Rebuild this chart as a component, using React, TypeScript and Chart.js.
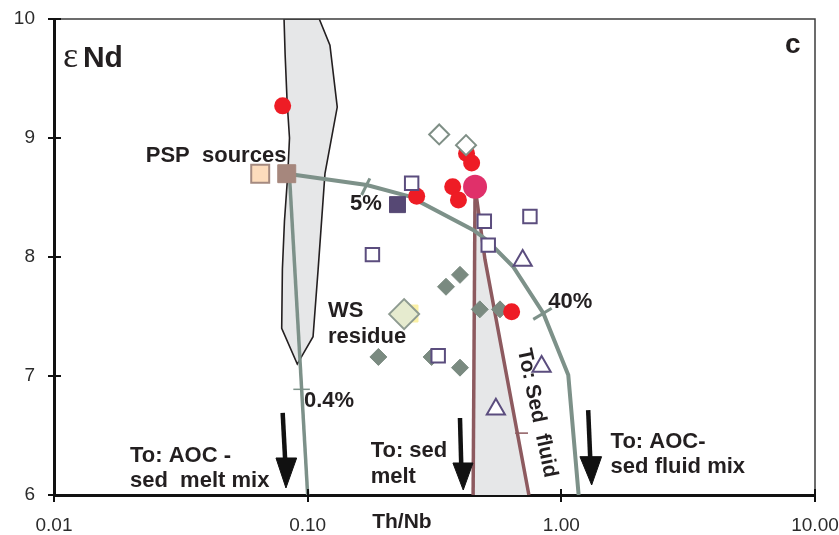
import { useEffect, useRef } from 'react';
import { Chart, registerables } from 'chart.js';

Chart.register(...registerables);

const FONT = '"Liberation Sans", Arial, Helvetica, sans-serif';

// ---- axes ----
const xTickValues = [0.01, 0.1, 1, 10];
const xTickLabels = ['0.01', '0.10', '1.00', '10.00'];
const yTickValues = [6, 7, 8, 9, 10];
const yTickLabels = ['6', '7', '8', '9', '10'];

// ---- grey field (left) ----
const fieldX = [0.0807, 0.0815, 0.083, 0.0848, 0.0835, 0.081, 0.0795, 0.079, 0.091, 0.105, 0.11, 0.117, 0.1308, 0.1224, 0.1111, 0.0807];
const fieldY = [10, 9.7, 9.3, 9.0, 8.7, 8.3, 7.9, 7.4, 7.1, 7.33, 7.9, 8.7, 9.26, 9.78, 10, 10];

// ---- sediment field (between brown lines) ----
const sedFieldX = [0.457, 0.5, 0.745, 0.449, 0.457];
const sedFieldY = [8.59, 7.98, 6.0, 6.0, 8.59];
const sedMeltX = [0.457, 0.449];
const sedMeltY = [8.59, 6.0];
const sedFluidX = [0.457, 0.5, 0.745];
const sedFluidY = [8.59, 7.98, 6.0];

// ---- mixing curves ----
const fluidMixX = [0.083, 0.171, 0.253, 0.449, 0.508, 0.645, 0.849, 1.065, 1.17];
const fluidMixY = [8.7, 8.605, 8.507, 8.227, 8.143, 7.92, 7.527, 7.008, 6.0];
const meltMixX = [0.0848, 0.1];
const meltMixY = [8.68, 6.0];

// ---- tick marks on curves ----
const tick5X = [0.1632, 0.1758];
const tick5Y = [8.521, 8.661];
const tick40X = [0.775, 0.916];
const tick40Y = [7.476, 7.569];
const tick04X = [0.0878, 0.102];
const tick04Y = [6.888, 6.888];
const tickFluidX = [0.657, 0.739];
const tickFluidY = [6.52, 6.52];

// ---- arrows ----
const arrow1ShaftX = [0.0797, 0.0815];
const arrow1ShaftY = [6.69, 6.3];
const arrow1HeadX = [0.075, 0.0905, 0.0821, 0.075];
const arrow1HeadY = [6.311, 6.311, 6.059, 6.311];
const arrow2ShaftX = [0.3985, 0.403];
const arrow2ShaftY = [6.647, 6.26];
const arrow2HeadX = [0.3738, 0.4484, 0.4105, 0.3738];
const arrow2HeadY = [6.269, 6.269, 6.042, 6.269];
const arrow3ShaftX = [1.276, 1.3];
const arrow3ShaftY = [6.714, 6.31];
const arrow3HeadX = [1.184, 1.441, 1.317, 1.184];
const arrow3HeadY = [6.322, 6.322, 6.084, 6.322];

// ---- samples ----
const redX = [0.0797, 0.423, 0.443, 0.373, 0.393, 0.269, 0.637];
const redY = [9.27, 8.87, 8.79, 8.59, 8.48, 8.51, 7.54];
const pinkX = [0.457];
const pinkY = [8.59];
const openSqX = [0.257, 0.18, 0.497, 0.515, 0.752, 0.327];
const openSqY = [8.62, 8.02, 8.3, 8.1, 8.34, 7.17];
const filledSqX = [0.226];
const filledSqY = [8.44];
const triX = [0.704, 0.836, 0.552];
const triY = [7.97, 7.08, 6.72];
const openDiaX = [0.33, 0.421];
const openDiaY = [9.03, 8.94];
const filledDiaX = [0.3985, 0.351, 0.477, 0.573, 0.308, 0.3985, 0.19];
const filledDiaY = [7.85, 7.75, 7.56, 7.56, 7.16, 7.07, 7.16];
const wsX = [0.24];
const wsY = [7.52];
const yellowX = [0.252];
const yellowY = [7.525];
const pspX = [0.0827];
const pspY = [8.7];
const pspTanX = [0.065];
const pspTanY = [8.7];

// ---- text labels ----
const labelTexts = ['PSP  sources', '5%', 'WS', 'residue', '0.4%', '40%', 'To: AOC -', 'sed  melt mix', 'To: sed', 'melt', 'To: AOC-', 'sed fluid mix'];
const labelX = [0.023, 0.1468, 0.1202, 0.1202, 0.0967, 0.888, 0.01993, 0.01993, 0.1771, 0.1771, 1.564, 1.564];
const labelY = [8.801, 8.395, 7.498, 7.28, 6.742, 7.569, 6.28, 6.07, 6.322, 6.098, 6.392, 6.182];
const rotatedText = 'To: Sed  fluid';
const rotatedX = 0.8016;
const rotatedY = 6.689;
const xTitle = 'Th/Nb';
const xTitleX = 0.2353;
const xTitleY = 5.72;

const pts = (xs: number[], ys: number[]) => xs.map((x, i) => ({ x, y: ys[i] }));

const GREEN = '#7d9189';
const BROWN = '#8d5a5f';
const PURPLE = '#5b4d7e';
const INK = '#231f20';

const line = (xs: number[], ys: number[], color: string, width: number, order: number) => ({
  data: pts(xs, ys),
  showLine: true,
  borderColor: color,
  borderWidth: width,
  pointRadius: 0,
  fill: false,
  order,
});

const shape = (xs: number[], ys: number[], fillColor: string, borderColor: string, width: number, order: number) => ({
  data: pts(xs, ys),
  showLine: true,
  borderColor,
  borderWidth: width,
  backgroundColor: fillColor,
  pointRadius: 0,
  fill: 'shape',
  order,
});

const markers = (xs: number[], ys: number[], style: string, radius: number, bg: string, border: string, bw: number, order: number) => ({
  data: pts(xs, ys),
  pointStyle: style,
  pointRadius: radius,
  backgroundColor: bg,
  borderColor: border,
  pointBorderWidth: bw,
  borderWidth: bw,
  showLine: false,
  order,
});

const overlayPlugin = {
  id: 'overlay',
  afterDatasetsDraw(chart: any) {
    const { ctx, chartArea, scales } = chart;
    const xs = scales.x;
    const ys = scales.y;
    ctx.save();
    // top & right frame
    ctx.strokeStyle = '#3c3c3c';
    ctx.lineWidth = 1.5;
    ctx.beginPath();
    ctx.moveTo(chartArea.left, chartArea.top);
    ctx.lineTo(chartArea.right, chartArea.top);
    ctx.lineTo(chartArea.right, chartArea.bottom);
    ctx.stroke();
    // inner tick parts
    ctx.strokeStyle = '#111';
    ctx.lineWidth = 2;
    ctx.beginPath();
    for (const v of xTickValues) {
      const px = Math.round(xs.getPixelForValue(v));
      ctx.moveTo(px, chartArea.bottom);
      ctx.lineTo(px, chartArea.bottom - 6);
    }
    for (const v of yTickValues) {
      const py = Math.round(ys.getPixelForValue(v));
      ctx.moveTo(chartArea.left, py);
      ctx.lineTo(chartArea.left + 7, py);
    }
    ctx.stroke();

    // annotation texts
    ctx.fillStyle = INK;
    ctx.textBaseline = 'alphabetic';
    ctx.textAlign = 'left';
    ctx.font = `bold 22px ${FONT}`;
    labelTexts.forEach((t, i) => {
      ctx.fillText(t, xs.getPixelForValue(labelX[i]), ys.getPixelForValue(labelY[i]));
    });

    // rotated
    ctx.save();
    ctx.translate(xs.getPixelForValue(rotatedX), ys.getPixelForValue(rotatedY));
    ctx.rotate((78 * Math.PI) / 180);
    ctx.textAlign = 'center';
    ctx.textBaseline = 'middle';
    ctx.font = `bold 21px ${FONT}`;
    ctx.fillText(rotatedText, 0, 0);
    ctx.restore();

    // axis title
    ctx.textAlign = 'center';
    ctx.font = `bold 21px ${FONT}`;
    ctx.fillText(xTitle, xs.getPixelForValue(xTitleX), ys.getPixelForValue(xTitleY));

    // eNd
    ctx.textAlign = 'left';
    ctx.font = `36px "Liberation Serif", "DejaVu Serif", serif`;
    ctx.fillText('\u03b5', xs.getPixelForValue(0.01085), ys.getPixelForValue(9.6));
    ctx.font = `bold 30px ${FONT}`;
    ctx.fillText('Nd', xs.getPixelForValue(0.013), ys.getPixelForValue(9.6));
    // panel letter
    ctx.font = `bold 28px ${FONT}`;
    ctx.fillText('c', xs.getPixelForValue(7.61), ys.getPixelForValue(9.714));
    ctx.restore();
  },
};

export default function App() {
  const ref = useRef<HTMLCanvasElement | null>(null);
  useEffect(() => {
    if (!ref.current) return;
    const datasets: any[] = [
      shape(fieldX, fieldY, '#e6e7e8', INK, 1.6, 30),
      shape(sedFieldX, sedFieldY, '#e6e7e8', 'rgba(0,0,0,0)', 0, 29),
      line(sedMeltX, sedMeltY, BROWN, 3.5, 25),
      line(sedFluidX, sedFluidY, BROWN, 3.5, 25),
      line(fluidMixX, fluidMixY, GREEN, 4, 24),
      line(meltMixX, meltMixY, GREEN, 3.5, 24),
      line(tick5X, tick5Y, GREEN, 3, 23),
      line(tick40X, tick40Y, GREEN, 3, 23),
      line(tick04X, tick04Y, GREEN, 1.5, 23),
      line(tickFluidX, tickFluidY, BROWN, 1.5, 23),
      line(arrow1ShaftX, arrow1ShaftY, '#111', 4.5, 22),
      shape(arrow1HeadX, arrow1HeadY, '#111', '#111', 1, 22),
      line(arrow2ShaftX, arrow2ShaftY, '#111', 4.5, 22),
      shape(arrow2HeadX, arrow2HeadY, '#111', '#111', 1, 22),
      line(arrow3ShaftX, arrow3ShaftY, '#111', 4.5, 22),
      shape(arrow3HeadX, arrow3HeadY, '#111', '#111', 1, 22),
      markers(filledDiaX, filledDiaY, 'rectRot', 8.5, '#7a8a80', '#7a8a80', 1, 12),
      markers(yellowX, yellowY, 'rect', 12, '#fbf1a6', '#fbf1a6', 1, 11),
      markers(wsX, wsY, 'rectRot', 15, '#e6ebcf', '#8e9b91', 2, 10),
      markers(redX, redY, 'circle', 8.5, '#ee1c25', '#ee1c25', 0, 9),
      markers(openDiaX, openDiaY, 'rectRot', 10, '#ffffff', '#7f8f86', 2, 8),
      markers(openSqX, openSqY, 'rect', 9.5, '#ffffff', PURPLE, 2, 7),
      markers(triX, triY, 'triangle', 10.5, '#ffffff', PURPLE, 2, 7),
      markers(filledSqX, filledSqY, 'rect', 11.3, '#564874', '#564874', 1, 7),
      markers(pinkX, pinkY, 'circle', 12, '#e0306a', '#e0306a', 0, 5),
      markers(pspTanX, pspTanY, 'rect', 12.7, '#fddcbc', '#a58a80', 2, 4),
      markers(pspX, pspY, 'rect', 12.7, '#a6877d', '#a6877d', 1, 4),
    ];
    const chart = new Chart(ref.current, {
      type: 'scatter',
      data: { datasets },
      options: {
        animation: false,
        responsive: false,
        events: [],
        layout: { padding: { top: 19, right: 24, left: 0, bottom: 0 } },
        plugins: { legend: { display: false }, tooltip: { enabled: false } },
        scales: {
          x: {
            type: 'logarithmic',
            min: 0.01,
            max: 10,
            afterBuildTicks: (s: any) => {
              s.ticks = xTickValues.map((v) => ({ value: v }));
            },
            afterFit: (s: any) => {
              s.height = 40;
              s.paddingLeft = 0;
              s.paddingRight = 0;
            },
            ticks: {
              callback: (_v: any, i: number) => xTickLabels[i],
              font: { family: FONT, size: 19 },
              color: '#2b2b2b',
              padding: 12,
              maxRotation: 0,
              autoSkip: false,
            },
            grid: { drawOnChartArea: false, drawTicks: true, tickLength: 7, color: '#111', lineWidth: 2 },
            border: { display: true, color: '#111', width: 3 },
          },
          y: {
            type: 'linear',
            min: 6,
            max: 10,
            afterBuildTicks: (s: any) => {
              s.ticks = yTickValues.map((v) => ({ value: v }));
            },
            afterFit: (s: any) => {
              s.width = 54;
              s.paddingTop = 0;
              s.paddingBottom = 0;
            },
            ticks: {
              callback: (_v: any, i: number) => yTickLabels[i],
              font: { family: FONT, size: 19 },
              color: '#2b2b2b',
              padding: 13,
            },
            grid: { drawOnChartArea: false, drawTicks: true, tickLength: 6, color: '#111', lineWidth: 2 },
            border: { display: true, color: '#111', width: 3 },
          },
        },
      },
      plugins: [overlayPlugin],
    } as any);
    return () => chart.destroy();
  }, []);
  return (
    <div style={{ position: 'fixed', left: 0, top: 0, width: 839, height: 535, background: '#fff' }}>
      <canvas ref={ref} width={839} height={535} style={{ display: 'block', width: 839, height: 535 }} />
    </div>
  );
}
